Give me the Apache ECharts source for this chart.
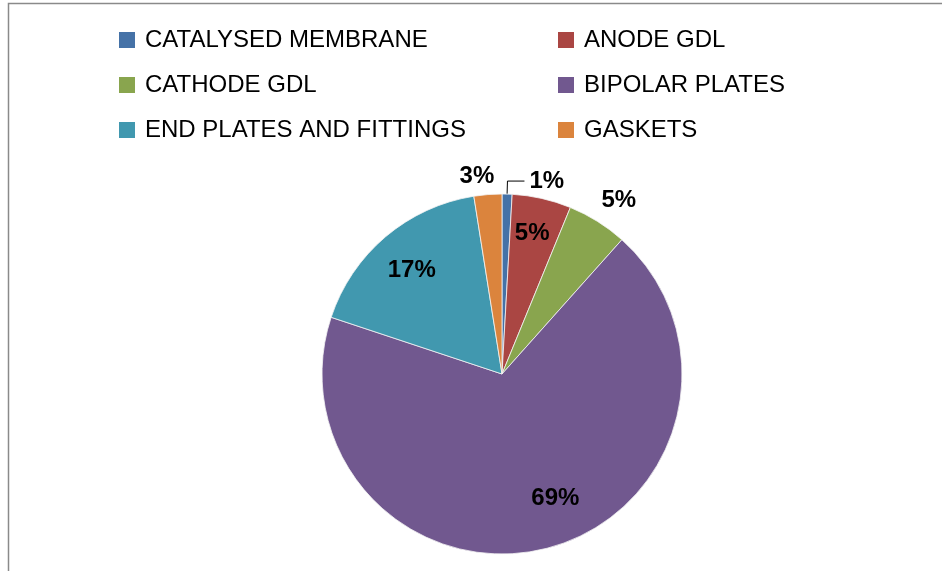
<!DOCTYPE html>
<html>
<head>
<meta charset="utf-8">
<script src="https://cdn.jsdelivr.net/npm/echarts@6/dist/echarts.min.js"></script>
<style>
html,body{margin:0;padding:0;background:#fff;}
#chart{width:942px;height:571px;}
</style>
</head>
<body>
<div id="chart"></div>
<script>
const categories = ['CATALYSED MEMBRANE', 'ANODE GDL', 'CATHODE GDL', 'BIPOLAR PLATES', 'END PLATES AND FITTINGS', 'GASKETS'];
const values = [0.9, 5.3, 5.4, 68.5, 17.4, 2.5];
const colors = ['#4572A7', '#AA4643', '#89A54E', '#71588F', '#4198AF', '#DB843D'];
// where each percentage label sits in the reference
const labelPlace = ['outside', 'inside', 'far', 'inside', 'inside', 'far'];
// small nudges of the label text (px) to follow the reference placement
const labelNudge = [[0, 0], [-1, -3], [8, 0], [17, -12], [1, 4], [-9, 7]];

const FONT = '"Liberation Sans", Arial, sans-serif';
const fmt = p => Math.round(p.value) + '%';
const labelStyle = {color: '#000', fontFamily: FONT, fontWeight: 'bold', fontSize: 24, formatter: fmt};
const nudge = p => ({dx: labelNudge[p.dataIndex][0], dy: labelNudge[p.dataIndex][1]});

const chart = echarts.init(document.getElementById('chart'), null, {renderer: 'canvas'});

const mainData = categories.map((n, i) => ({
  name: n, value: values[i],
  itemStyle: {color: colors[i]},
  label: {show: labelPlace[i] === 'outside'},
  labelLine: {show: labelPlace[i] === 'outside'}
}));
function overlayData(kind) {
  return categories.map((n, i) => ({
    name: n, value: values[i],
    itemStyle: {color: 'rgba(0,0,0,0)', borderWidth: 0},
    label: {show: labelPlace[i] === kind}
  }));
}

const option = {
  animation: false,
  backgroundColor: '#fff',
  color: colors,
  graphic: [{
    type: 'rect', silent: true, z: -1,
    shape: {x: 8.5, y: 3.5, width: 1200, height: 1200},
    style: {fill: 'none', stroke: '#8a8a8a', lineWidth: 1.5}
  }],
  legend: {
    left: 119, top: 25, width: 720, padding: 0,
    itemWidth: 16, itemHeight: 16, itemGap: 15, icon: 'rect',
    itemStyle: {borderWidth: 0},
    textStyle: {fontFamily: FONT, fontSize: 24, color: '#000', lineHeight: 30, padding: [0, 0, 0, 5]},
    data: categories.map((n, i) => i % 2 === 0 ? {name: n, textStyle: {width: 398}} : {name: n})
  },
  series: [
    {
      type: 'pie', center: [502, 374], radius: 180, startAngle: 90, clockwise: true,
      avoidLabelOverlap: false, silent: true,
      itemStyle: {borderColor: '#f4f4f4', borderWidth: 0.8},
      label: Object.assign({position: 'outside', padding: [0, 0, 14, 0]}, labelStyle),
      labelLine: {length: 13, length2: 17, lineStyle: {color: '#000', width: 1}},
      data: mainData
    },
    {
      type: 'pie', center: [502, 374], radius: 276, startAngle: 90, clockwise: true,
      avoidLabelOverlap: false, silent: true, legendHoverLink: false,
      label: Object.assign({position: 'inside'}, labelStyle),
      labelLine: {show: false},
      labelLayout: nudge,
      data: overlayData('inside')
    },
    {
      type: 'pie', center: [502, 374], radius: 404, startAngle: 90, clockwise: true,
      avoidLabelOverlap: false, silent: true, legendHoverLink: false,
      label: Object.assign({position: 'inside'}, labelStyle),
      labelLine: {show: false},
      labelLayout: nudge,
      data: overlayData('far')
    }
  ]
};
chart.setOption(option);
</script>
</body>
</html>
